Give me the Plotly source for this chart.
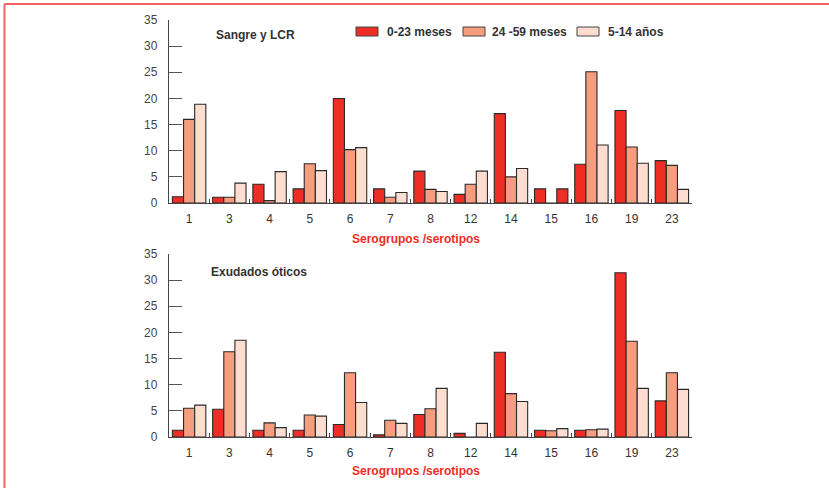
import plotly.graph_objects as go

categories = ["1", "3", "4", "5", "6", "7", "8", "12", "14", "15", "16", "19", "23"]
series_names = ["0-23 meses", "24 -59 meses", "5-14 años"]

# Sangre y LCR
blood_0_23 = [1.2, 1.1, 3.6, 2.7, 20.0, 2.7, 6.1, 1.65, 17.1, 2.7, 7.4, 17.7, 8.1]
blood_24_59 = [16.0, 1.1, 0.45, 7.5, 10.2, 1.1, 2.6, 3.6, 5.0, 0, 25.1, 10.7, 7.2]
blood_5_14 = [18.9, 3.8, 6.0, 6.2, 10.6, 2.0, 2.2, 6.1, 6.6, 2.7, 11.1, 7.6, 2.6]

# Exudados óticos
ear_0_23 = [1.3, 5.3, 1.3, 1.3, 2.4, 0.4, 4.3, 0.7, 16.2, 1.3, 1.3, 31.4, 6.9]
ear_24_59 = [5.5, 16.3, 2.7, 4.2, 12.3, 3.2, 5.4, 0, 8.3, 1.2, 1.4, 18.3, 12.3]
ear_5_14 = [6.1, 18.5, 1.8, 4.0, 6.6, 2.6, 9.3, 2.6, 6.8, 1.6, 1.5, 9.3, 9.1]

panel_titles = ["Sangre y LCR", "Exudados óticos"]
x_title = "Serogrupos /serotipos"
y_ticks = [0, 5, 10, 15, 20, 25, 30, 35]

RED = "#EE2D24"
ORANGE = "#F59D7E"
LIGHT = "#FDDDD0"
colors = [RED, ORANGE, LIGHT]
OUTLINE = "#2a2a2a"
TXT = "#333333"
FONT = "Liberation Sans, Arial, sans-serif"

W, H = 829, 488
L, R, T, B = 169, 692, 20, 437
PW, PH = R - L, B - T

def px(x):
    return (x - L) / PW

def py(y):
    return (B - y) / PH

fig = go.Figure()

top_light_colors = [RED if c == "15" else LIGHT for c in categories]
top_data = [blood_0_23, blood_24_59, blood_5_14]
bot_data = [ear_0_23, ear_24_59, ear_5_14]
for i, (name, vals) in enumerate(zip(series_names, top_data)):
    col = top_light_colors if i == 2 else colors[i]
    fig.add_trace(go.Bar(x=categories, y=vals, name=name, marker=dict(color=col, line=dict(color=OUTLINE, width=1.1)),
                         xaxis="x", yaxis="y", showlegend=False))
for i, (name, vals) in enumerate(zip(series_names, bot_data)):
    fig.add_trace(go.Bar(x=categories, y=vals, name=name, marker=dict(color=colors[i], line=dict(color=OUTLINE, width=1.1)),
                         xaxis="x2", yaxis="y2", showlegend=False))

top_dom = [py(203), py(20)]
bot_dom = [py(437), py(254)]

xax = dict(type="category", range=[-0.5, 12.5], tickson="boundaries", ticks="inside", ticklen=4,
           tickcolor="#444", tickwidth=1.3, showline=True, linecolor="#444", linewidth=1.4,
           showgrid=False, zeroline=False, tickfont=dict(family=FONT, size=12, color=TXT),
           ticklabelstandoff=4, domain=[0, 1])
yax = dict(range=[0, 35], tickvals=y_ticks, ticks="inside", ticklen=13, tickcolor="#555", tickwidth=1.3,
           showline=True, linecolor="#444", linewidth=1.4, showgrid=False, zeroline=False,
           tickfont=dict(family=FONT, size=12, color="#444"), ticklabelstandoff=8)

fig.update_layout(
    width=W, height=H,
    margin=dict(l=L, r=W - R, t=T, b=H - B, pad=0),
    paper_bgcolor="white", plot_bgcolor="white",
    barmode="group", bargap=0.17, bargroupgap=0,
    xaxis=dict(xax, anchor="y"),
    yaxis=dict(yax, domain=top_dom, anchor="x"),
    xaxis2=dict(xax, anchor="y2"),
    yaxis2=dict(yax, domain=bot_dom, anchor="x2"),
    showlegend=False,
)

annotations = []
shapes = []
annotations.append(dict(text="<b>" + panel_titles[0] + "</b>", x=px(214), y=py(35), xref="paper", yref="paper",
                        xanchor="left", yanchor="middle", showarrow=False, font=dict(family=FONT, size=12, color=TXT)))
annotations.append(dict(text="<b>" + panel_titles[1] + "</b>", x=px(209), y=py(272), xref="paper", yref="paper",
                        xanchor="left", yanchor="middle", showarrow=False, font=dict(family=FONT, size=12, color=TXT)))
for yy in (239, 471):
    annotations.append(dict(text="<b>" + x_title + "</b>", x=px(416), y=py(yy), xref="paper", yref="paper",
                            xanchor="center", yanchor="middle", showarrow=False, font=dict(family=FONT, size=12, color=RED)))
legend_boxes = [(356, 385), (463, 490), (577, 606)]
for (bx, tx), name, c in zip(legend_boxes, series_names, colors):
    shapes.append(dict(type="rect", xref="paper", yref="paper", x0=px(bx), x1=px(bx + 22), y0=py(36), y1=py(27),
                       fillcolor=c, line=dict(color="#444", width=1)))
    annotations.append(dict(text="<b>" + name + "</b>", x=px(tx), y=py(31.5), xref="paper", yref="paper",
                            xanchor="left", yanchor="middle", showarrow=False, font=dict(family=FONT, size=12, color=TXT)))
shapes.append(dict(type="line", xref="paper", yref="paper", x0=px(4.5), x1=px(4.5), y0=py(4), y1=py(500),
                   line=dict(color="#F06060", width=2)))
shapes.append(dict(type="line", xref="paper", yref="paper", x0=px(4.5), x1=px(840), y0=py(4), y1=py(4),
                   line=dict(color="#F06060", width=2)))

fig.update_layout(annotations=annotations, shapes=shapes)
fig.write_html("out.html", config={"displayModeBar": False},
               post_script="document.body.style.margin='0';document.body.style.overflow='hidden';")
